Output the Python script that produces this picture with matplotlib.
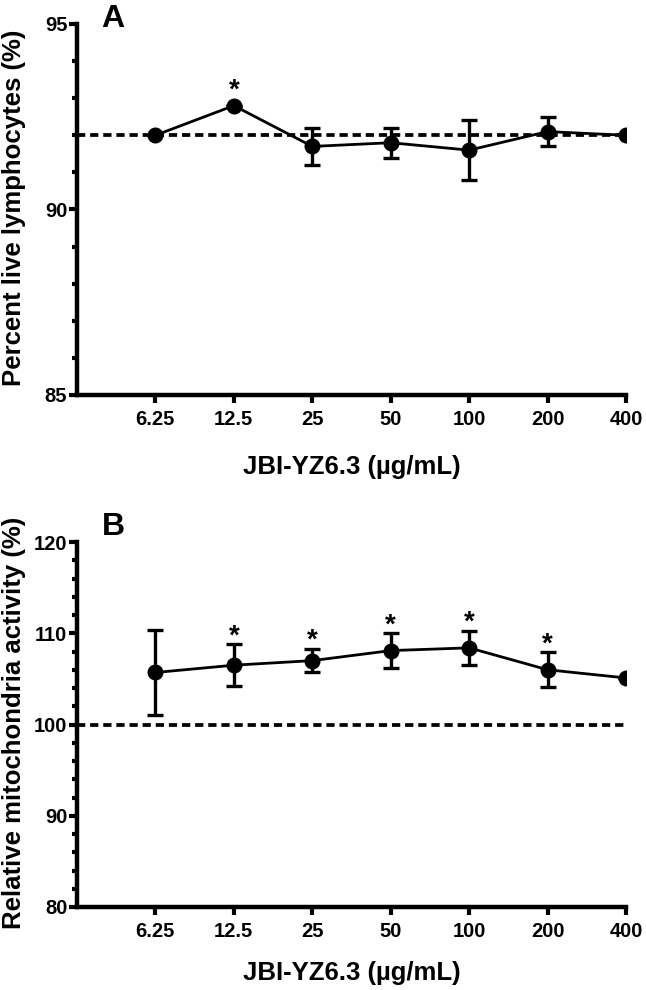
import matplotlib
matplotlib.use("Agg")
import matplotlib.pyplot as plt
from matplotlib.ticker import MultipleLocator
import numpy as np

plt.rcParams['font.family'] = ['Liberation Sans', 'DejaVu Sans']
plt.rcParams['font.weight'] = 'bold'

concentrations = ["6.25", "12.5", "25", "50", "100", "200", "400"]

live_mean = [92.0, 92.8, 91.7, 91.8, 91.6, 92.1, 92.0]
live_err = [0.0, 0.0, 0.5, 0.4, 0.8, 0.4, 0.0]
live_sig = [False, True, False, False, False, False, False]
live_ref = 92.0

mito_mean = [105.7, 106.5, 107.0, 108.1, 108.4, 106.0, 105.1]
mito_err = [4.7, 2.3, 1.3, 1.9, 1.9, 1.9, 0.0]
mito_sig = [False, True, True, True, True, True, False]
mito_ref = 100.0

xlabel = "JBI-YZ6.3 (\u00b5g/mL)"

W, H = 646, 990
fig = plt.figure(figsize=(W / 100, H / 100), dpi=100)


def px(x, y):
    return x / W, 1 - y / H


def panel(top, bottom, mean, err, sig, ref, ylim, major, minor, ylabel,
          letter, letter_y, xlab_y):
    left, right = 77, 626
    ax = fig.add_axes([left / W, 1 - bottom / H, (right - left) / W,
                       (bottom - top) / H])
    x = np.arange(len(concentrations))
    ax.axhline(ref, color='black', lw=2.7, ls=(0, (2.2, 1.3)), zorder=1)
    ax.plot(x, mean, color='black', lw=2.0, zorder=2)
    ax.errorbar(x, mean, yerr=err, fmt='o', color='black', ms=10.5,
                elinewidth=2.4, capsize=6, capthick=2.4, zorder=3)
    for xi, m, e, s in zip(x, mean, err, sig):
        if s:
            off = 10.5 if e == 0 else 5.5
            ax.annotate("*", xy=(xi, m + e), xytext=(0, off),
                        textcoords='offset points', ha='center',
                        va='center', fontsize=20, fontweight='bold')
    ax.set_xlim(-1, 6)
    ax.set_ylim(*ylim)
    ax.set_xticks(x)
    ax.set_xticklabels(concentrations)
    ax.yaxis.set_major_locator(MultipleLocator(major))
    ax.yaxis.set_minor_locator(MultipleLocator(minor))
    for s in ['top', 'right']:
        ax.spines[s].set_visible(False)
    for s in ['left', 'bottom']:
        ax.spines[s].set_linewidth(3.2)
        ax.spines[s].set_capstyle('projecting')
    ax.tick_params(axis='both', which='major', length=5.5, width=3.0,
                   labelsize=14.5, direction='out')
    ax.tick_params(axis='y', which='minor', length=3.5, width=3.0)
    ax.tick_params(axis='x', pad=5)
    ax.tick_params(axis='y', pad=1.5)
    for lab in ax.get_xticklabels() + ax.get_yticklabels():
        lab.set_fontweight('bold')

    ax.set_xlabel(xlabel, fontsize=18.5, fontweight='bold')
    ax.xaxis.label.set_va('center')
    ax.xaxis.set_label_coords(*px((left + right) / 2, xlab_y),
                              transform=fig.transFigure)

    ax.set_ylabel(ylabel, fontsize=18.5, fontweight='bold')
    ax.yaxis.label.set_rotation_mode('default')
    ax.yaxis.label.set_va('center')
    ax.yaxis.label.set_ha('center')
    ax.yaxis.set_label_coords(*px(14, (top + bottom) / 2 - 2),
                              transform=fig.transFigure)

    fig.text(*px(113, letter_y), letter, fontsize=23, fontweight='bold',
             ha='center', va='center')
    return ax


panel(24, 395, live_mean, live_err, live_sig, live_ref, (85, 95), 5, 1,
      "Percent live lymphocytes (%)", "A", 19, 467)
panel(542, 907, mito_mean, mito_err, mito_sig, mito_ref, (80, 120), 10, 2,
      "Relative mitochondria activity (%)", "B", 527, 973)

fig.savefig("out.png", dpi=100)
